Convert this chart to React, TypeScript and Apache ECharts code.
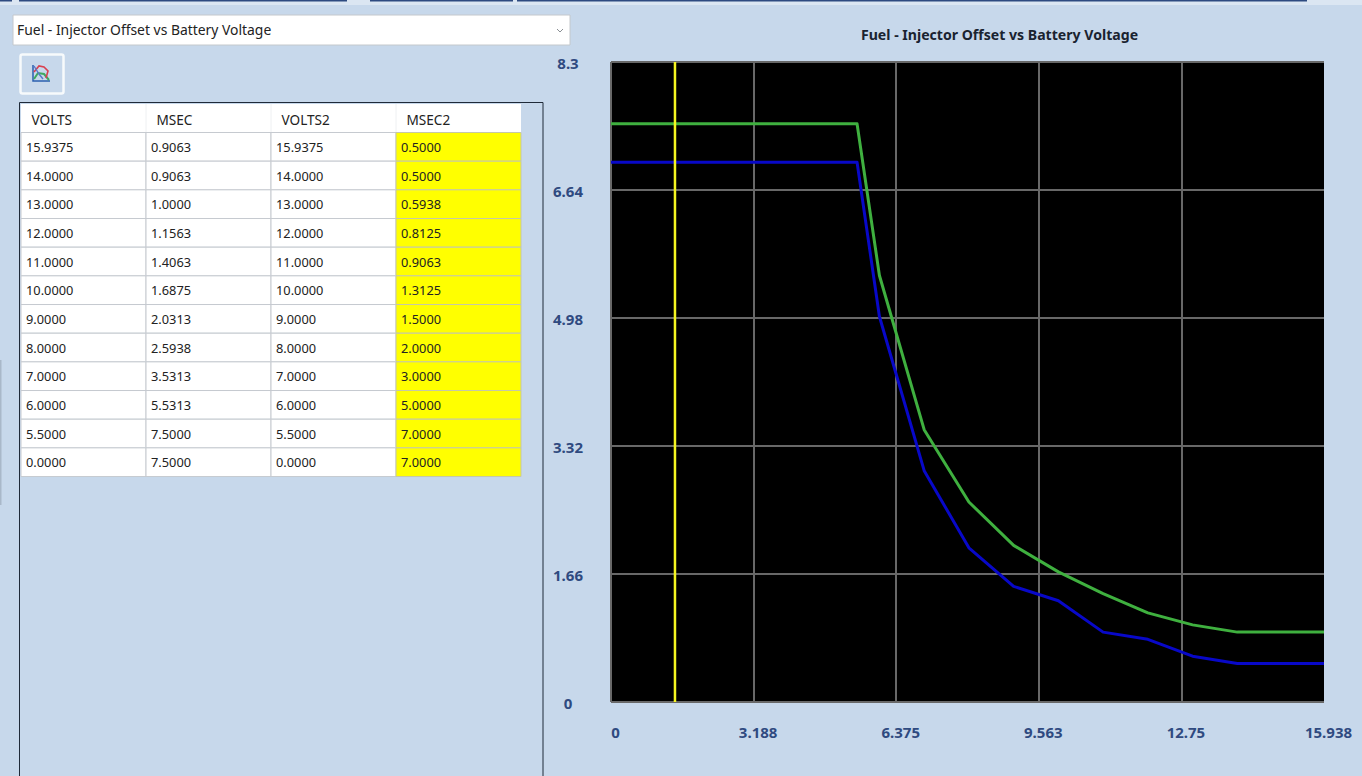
import React, { useEffect, useRef } from "react";
import * as echarts from "echarts";

const chartTitle = "Fuel - Injector Offset vs Battery Voltage";
const tableHeaders = ["VOLTS", "MSEC", "VOLTS2", "MSEC2"];
const volts = [15.9375, 14, 13, 12, 11, 10, 9, 8, 7, 6, 5.5, 0];
const msec = [0.9063, 0.9063, 1.0, 1.1563, 1.4063, 1.6875, 2.0313, 2.5938, 3.5313, 5.5313, 7.5, 7.5];
const volts2 = [15.9375, 14, 13, 12, 11, 10, 9, 8, 7, 6, 5.5, 0];
const msec2 = [0.5, 0.5, 0.5938, 0.8125, 0.9063, 1.3125, 1.5, 2.0, 3.0, 5.0, 7.0, 7.0];
const cursorVolts = [1.43, 1.43];
const cursorMsec = [0, 8.3];
const xTickLabels = ["0", "3.188", "6.375", "9.563", "12.75", "15.938"];
const yTickLabels = ["0", "1.66", "3.32", "4.98", "6.64", "8.3"];
const xInterval = 3.1875;
const yInterval = 1.66;

const BG = "#c7d8eb";
const FONT = "'Noto Sans', sans-serif";
const COLS = [21, 146, 271, 396, 521];
const ROW_TOP = 132.5;
const ROW_H = 28.67;

function buildGraphic() {
  const els: any[] = [];
  // top strip
  els.push({ type: "rect", shape: { x: 0, y: 0, width: 1362, height: 5 }, style: { fill: "#dbe6f2" }, silent: true });
  [[0, 12], [19, 328], [370, 143], [517, 790]].forEach(([x, w]) =>
    els.push({ type: "rect", shape: { x, y: 0, width: w, height: 1.5 }, style: { fill: "#2d4a80" }, silent: true })
  );
  els.push({ type: "rect", shape: { x: 0, y: 360, width: 1.5, height: 145 }, style: { fill: "#a9b8c9" }, silent: true });
  // dropdown
  els.push({ type: "rect", shape: { x: 13, y: 15, width: 557, height: 30 }, style: { fill: "#ffffff", stroke: "#c4c8cc", lineWidth: 1 }, silent: true });
  els.push({ type: "text", x: 17, y: 29, style: { text: chartTitle, fill: "#222222", font: `13.9px ${FONT}`, verticalAlign: "middle" }, silent: true });
  els.push({ type: "polyline", shape: { points: [[557, 29], [560, 32], [563, 29]] }, style: { stroke: "#8a8f94", fill: "none", lineWidth: 1 }, silent: true });
  // icon button
  els.push({ type: "rect", shape: { x: 20.5, y: 54.5, width: 43, height: 39, r: 2 }, style: { fill: BG, stroke: "#f7fafc", lineWidth: 2.5 }, silent: true });
  els.push({ type: "polyline", shape: { points: [[33, 65], [33, 81], [50, 81]] }, style: { stroke: "#2b5fb0", fill: "none", lineWidth: 1.5 }, silent: true });
  els.push({ type: "polyline", shape: { points: [[34, 79], [38, 73], [44, 74], [49, 80]] }, style: { stroke: "#3fa860", fill: "none", lineWidth: 2 }, silent: true });
  els.push({ type: "polyline", shape: { points: [[34, 72], [39, 66], [44, 67], [48, 71], [46, 78]] }, style: { stroke: "#d9404f", fill: "none", lineWidth: 1.6 }, silent: true });
  els.push({ type: "polyline", shape: { points: [[34, 66], [39, 74], [43, 79]] }, style: { stroke: "#5a78c8", fill: "none", lineWidth: 1.4 }, silent: true });
  // table frame
  els.push({ type: "polyline", shape: { points: [[19.5, 776], [19.5, 102.5], [543, 102.5], [543, 776]] }, style: { stroke: "#1f2a38", fill: "none", lineWidth: 1 }, silent: true });
  // header
  els.push({ type: "rect", shape: { x: COLS[0], y: 104, width: COLS[4] - COLS[0], height: 28 }, style: { fill: "#ffffff" }, silent: true });
  tableHeaders.forEach((h, i) => {
    els.push({ type: "text", x: COLS[i] + 10.5, y: 119, style: { text: h, fill: "#222222", font: `13.6px ${FONT}`, verticalAlign: "middle" }, silent: true });
    if (i > 0) els.push({ type: "line", shape: { x1: COLS[i], y1: 104, x2: COLS[i], y2: 132 }, style: { stroke: "#eef0f2", lineWidth: 1 }, silent: true });
  });
  // rows
  volts.forEach((_, r) => {
    const y = ROW_TOP + r * ROW_H;
    const vals = [volts[r], msec[r], volts2[r], msec2[r]];
    vals.forEach((v, c) => {
      els.push({
        type: "rect",
        shape: { x: COLS[c], y, width: COLS[c + 1] - COLS[c], height: ROW_H },
        style: { fill: c === 3 ? "#ffff00" : "#ffffff", stroke: c === 3 ? "#c6c8a8" : "#c6cad0", lineWidth: 1 },
        silent: true,
      });
      els.push({
        type: "text",
        x: COLS[c] + 5,
        y: y + ROW_H / 2,
        style: { text: v.toFixed(4), fill: "#222222", font: `12.8px ${FONT}`, verticalAlign: "middle" },
        silent: true,
      });
    });
  });
  return els;
}

export default function App() {
  const ref = useRef<HTMLDivElement>(null);
  useEffect(() => {
    document.body.style.margin = "0";
    document.body.style.background = BG;
    const chart = echarts.init(ref.current!, undefined, { renderer: "svg" });
    const gridLine = { show: true, lineStyle: { color: "#686868", width: 2, type: "solid" as const } };
    const labelStyle = { color: "#2f4a80", fontFamily: FONT, fontWeight: "bold" as const, fontSize: 15 };
    chart.setOption({
      animation: false,
      backgroundColor: BG,
      title: {
        text: chartTitle,
        left: 994.5,
        top: 22,
        textAlign: "center",
        textStyle: { color: "#1a2330", fontFamily: FONT, fontWeight: "bold", fontSize: 14.1 },
      },
      grid: { left: 611, top: 62, width: 713, height: 640, backgroundColor: "#000000", show: true, borderWidth: 0 },
      xAxis: {
        type: "value",
        min: 0,
        max: 15.9375,
        interval: xInterval,
        axisLine: { show: false },
        axisTick: { show: false },
        splitLine: { ...gridLine, showMinLine: true, showMaxLine: false },
        axisLabel: {
          ...labelStyle,
          margin: 22,
          showMinLabel: true,
          showMaxLabel: true,
          align: "center",
          padding: [0, 0, 0, 9],
          formatter: (v: number) => xTickLabels[Math.round(v / xInterval)],
        },
      },
      yAxis: {
        type: "value",
        min: 0,
        max: 8.3,
        interval: yInterval,
        axisLine: { show: false },
        axisTick: { show: false },
        splitLine: { ...gridLine },
        axisLabel: {
          ...labelStyle,
          margin: 43,
          align: "center",
          verticalAlign: "top",
          lineHeight: 2,
          formatter: (v: number) => yTickLabels[Math.round(v / yInterval)],
        },
      },
      series: [
        {
          name: "VOLTS2/MSEC2",
          type: "line",
          showSymbol: false,
          symbol: "none",
          lineStyle: { color: "#0808c8", width: 3, join: "round" },
          data: volts2.map((v, i) => [v, msec2[i]]),
          z: 3,
        },
        {
          name: "VOLTS/MSEC",
          type: "line",
          showSymbol: false,
          symbol: "none",
          lineStyle: { color: "#3fb03f", width: 3, join: "round" },
          data: volts.map((v, i) => [v, msec[i]]),
          z: 4,
        },
        {
          name: "cursor",
          type: "line",
          showSymbol: false,
          symbol: "none",
          lineStyle: { color: "#f5f520", width: 2.5 },
          data: cursorVolts.map((v, i) => [v, cursorMsec[i]]),
          z: 5,
        },
      ],
      graphic: buildGraphic(),
    });
    return () => chart.dispose();
  }, []);
  return <div ref={ref} style={{ width: 1362, height: 776 }} />;
}
